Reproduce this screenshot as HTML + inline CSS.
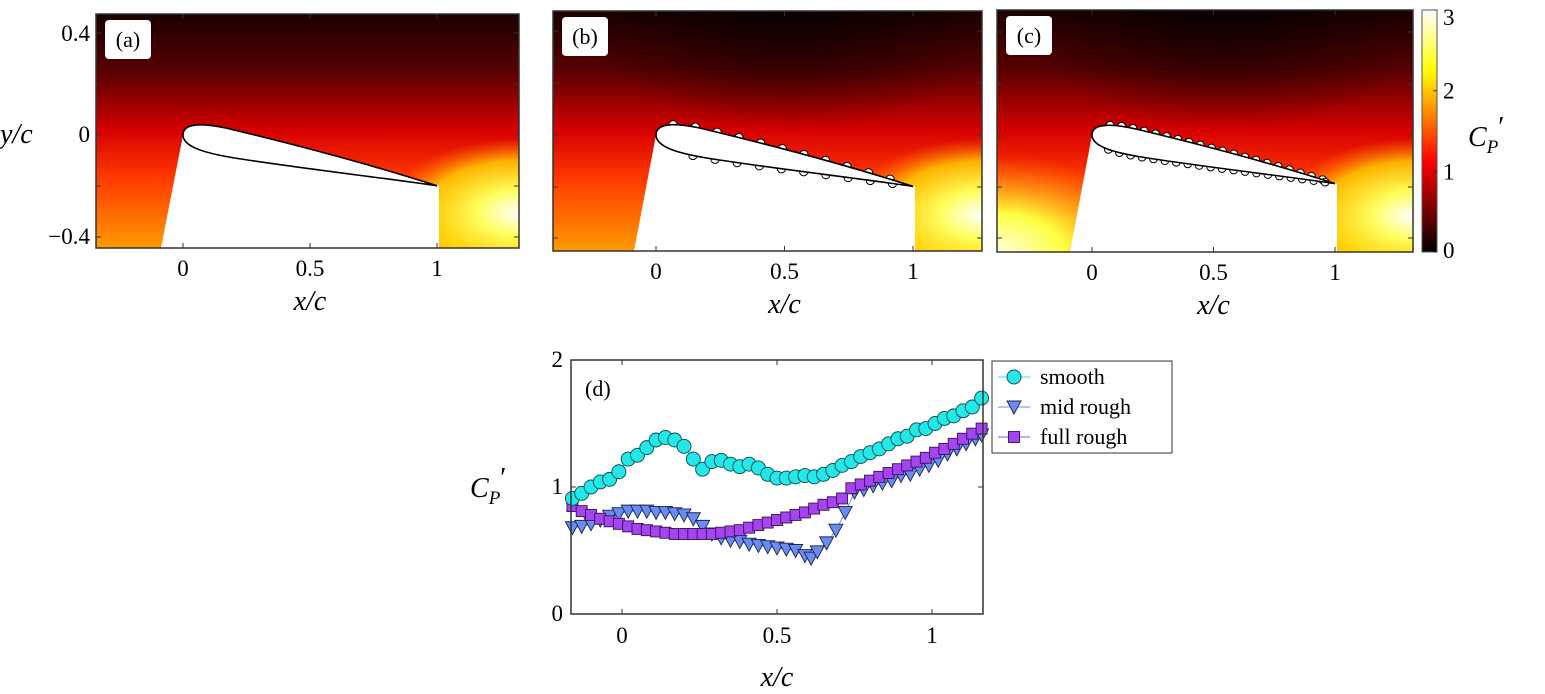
<!DOCTYPE html>
<html><head><meta charset="utf-8"><style>
html,body{margin:0;padding:0;background:#fff;}
svg{display:block;font-family:"Liberation Serif",serif;}
</style></head><body>
<svg id="fig" width="1545" height="694" viewBox="0 0 1545 694">
<defs>
 <linearGradient id="base" x1="0" y1="0" x2="0" y2="1">
  <stop offset="0" stop-color="#1a0000"/><stop offset="0.25" stop-color="#5a0000"/>
  <stop offset="0.5" stop-color="#d80000"/><stop offset="0.7" stop-color="#ff3a00"/>
  <stop offset="1" stop-color="#ff9a00"/>
 </linearGradient>
 <radialGradient id="yel" cx="1" cy="0.85" r="0.32">
  <stop offset="0" stop-color="#ffffff" stop-opacity="1"/><stop offset="0.3" stop-color="#ffff60" stop-opacity="1"/>
  <stop offset="0.7" stop-color="#ffe000" stop-opacity="0.75"/><stop offset="1" stop-color="#ff8000" stop-opacity="0"/>
 </radialGradient>
 <radialGradient id="yelL" cx="0" cy="1" r="0.4">
  <stop offset="0" stop-color="#ffffe0"/><stop offset="0.4" stop-color="#ffff40"/>
  <stop offset="1" stop-color="#ff9000" stop-opacity="0"/>
 </radialGradient>
 <radialGradient id="darkc" cx="0.55" cy="0" r="0.5">
  <stop offset="0" stop-color="#000" stop-opacity="0.7"/><stop offset="1" stop-color="#000" stop-opacity="0"/>
 </radialGradient>
 <linearGradient id="hot" x1="0" y1="1" x2="0" y2="0">
  <stop offset="0" stop-color="#000"/><stop offset="0.375" stop-color="#ff0000"/>
  <stop offset="0.75" stop-color="#ffff00"/><stop offset="1" stop-color="#fff"/>
 </linearGradient>
 <path id="foil" d="M0,0 C0,-0.055 0.1,-0.045 0.2,-0.02 C0.45,0.04 0.75,0.12 1,0.2 C0.8,0.17 0.45,0.13 0.2,0.09 C0.08,0.07 0,0.045 0,0 Z"/>
</defs>
<g id="panels"></g>
<g id="pd"></g>
</svg>
<script>
// ---------- panel (d) data ----------
const smoothX=[-0.16,-0.13,-0.10,-0.07,-0.04,-0.01,0.02,0.05,0.08,0.11,0.14,0.17,0.20,0.23,0.26,0.29,0.32,0.35,0.38,0.41,0.44,0.47,0.50,0.53,0.56,0.59,0.62,0.65,0.68,0.71,0.74,0.77,0.80,0.83,0.86,0.89,0.92,0.95,0.98,1.01,1.04,1.07,1.10,1.13,1.16];
const smoothY=[0.91,0.95,1.00,1.04,1.06,1.12,1.22,1.25,1.31,1.37,1.39,1.37,1.32,1.22,1.14,1.20,1.21,1.18,1.16,1.18,1.15,1.10,1.07,1.07,1.08,1.09,1.08,1.10,1.13,1.17,1.20,1.24,1.27,1.30,1.34,1.38,1.40,1.45,1.46,1.50,1.54,1.56,1.60,1.63,1.70];
const fullX=smoothX.slice();
const fullY=[0.85,0.81,0.78,0.75,0.73,0.71,0.69,0.67,0.66,0.65,0.64,0.63,0.63,0.63,0.63,0.63,0.64,0.65,0.66,0.68,0.70,0.72,0.74,0.76,0.78,0.80,0.83,0.86,0.88,0.91,0.99,1.02,1.05,1.08,1.11,1.14,1.17,1.20,1.23,1.27,1.30,1.34,1.38,1.42,1.46];
const midX=[-0.16,-0.13,-0.10,-0.07,-0.04,-0.01,0.02,0.05,0.08,0.11,0.14,0.17,0.20,0.23,0.26,0.29,0.32,0.35,0.38,0.41,0.44,0.47,0.50,0.53,0.56,0.59,0.61,0.63,0.66,0.69,0.72,0.75,0.78,0.81,0.84,0.87,0.90,0.93,0.96,0.99,1.02,1.05,1.08,1.11,1.14,1.16];
const midY=[0.68,0.69,0.71,0.74,0.77,0.79,0.81,0.81,0.81,0.80,0.80,0.79,0.78,0.75,0.69,0.63,0.60,0.58,0.57,0.55,0.54,0.53,0.52,0.51,0.50,0.46,0.44,0.49,0.56,0.66,0.80,0.96,0.98,1.01,1.03,1.05,1.09,1.10,1.14,1.17,1.21,1.26,1.30,1.34,1.38,1.41];
const xTicksD=[0,0.5,1];
const yTicksD=[0,1,2];
const legendNames=["smooth","mid rough","full rough"];
const cbTicks=[0,1,2,3];

const NS="http://www.w3.org/2000/svg";
function mk(tag,attrs,parent){const e=document.createElementNS(NS,tag);for(const k in attrs)e.setAttribute(k,attrs[k]);if(parent)parent.appendChild(e);return e;}

// ---------- heatmap panels ----------
const panelsG=document.getElementById('panels');
const P=[
 {id:'a',L:96,T:14,R:519,B:248,x0:183,x1:437,y0:135,yt:[33,84,135,186,237],bumps:0},
 {id:'b',L:553,T:11,R:982,B:251,x0:656,x1:913,y0:135,yt:[31,83,135,187,238],bumps:1},
 {id:'c',L:997,T:10,R:1413,B:252,x0:1092,x1:1335,y0:135,yt:[32,84,136,187,238],bumps:2}
];
P.forEach((p,i)=>{
 const g=mk('g',{},panelsG);
 
 
 const cp=mk('clipPath',{id:'clip'+p.id},g);
 mk('rect',{x:p.L,y:p.T,width:p.R-p.L,height:p.B-p.T},cp);
 const f=mk('g',{'clip-path':'url(#clip'+p.id+')'},g);
 const w=p.R-p.L,h=p.B-p.T;
 mk('rect',{x:p.L,y:p.T,width:w,height:h,fill:'url(#base)'},f);
 if(i>0) mk('rect',{x:p.L,y:p.T,width:w,height:h,fill:'url(#darkc)'},f);
 mk('rect',{x:p.L,y:p.T,width:w,height:h,fill:'url(#yel)'},f);
 if(i===2) mk('rect',{x:p.L,y:p.T,width:w,height:h,fill:'url(#yelL)'},f);
 const c=p.x1-p.x0;
 mk('polygon',{points:`${p.x0},${p.y0} ${p.x0-22},${p.B} ${p.x1+2},${p.B} ${p.x1+2},${p.y0+0.2*c} `,fill:'#fff'},f);
 const fg=mk('g',{transform:`translate(${p.x0},${p.y0}) scale(${c})`},f);
 if(p.bumps){
  const tmp=mk('path',{d:document.getElementById('foil').getAttribute('d')},fg);
  const Ltot=tmp.getTotalLength();
  const n=p.bumps===1?24:44;
  for(let k=1;k<n;k++){
   const pt=tmp.getPointAtLength(Ltot*k/n);
   if(pt.x<0.06||pt.x>0.96)continue;
   mk('circle',{cx:pt.x,cy:pt.y,r:0.016,fill:'#fff',stroke:'#000','stroke-width':1/c},fg);
  }
  tmp.remove();
 }
 const af=mk('use',{href:'#foil',fill:'#fff',stroke:'#000','stroke-width':1.6/c},fg);
 
 
 mk('rect',{x:p.L,y:p.T,width:w,height:h,fill:'none',stroke:'#333','stroke-width':1.5},g);
 [0,0.5,1].forEach(v=>{const x=p.x0+v*c;
  mk('line',{x1:x,x2:x,y1:p.B,y2:p.B-5,stroke:'#333'},g);mk('line',{x1:x,x2:x,y1:p.T,y2:p.T+5,stroke:'#333'},g);
  const t=mk('text',{x:x,y:p.B+28,'text-anchor':'middle','font-size':23},g);t.textContent=String(v);
  });
 p.yt.forEach(y=>{mk('line',{x1:p.L,x2:p.L+5,y1:y,y2:y,stroke:'#333'},g);mk('line',{x1:p.R,x2:p.R-5,y1:y,y2:y,stroke:'#333'},g);});
 const xl=mk('text',{x:p.x0+0.5*c,y:p.B+62,'text-anchor':'middle','font-size':28,'font-style':'italic'},g);xl.textContent='x/c';
 
 const lb=mk('g',{},g);
 mk('rect',{x:p.L+9,y:p.T+6,width:46,height:39,rx:4,fill:'#fff'},lb);
 const lt=mk('text',{x:p.L+32,y:p.T+33,'text-anchor':'middle','font-size':22},lb);lt.textContent='('+p.id+')';
});
[['0.4',41],['0',142],['\u22120.4',244]].forEach(([s,y])=>{const t=mk('text',{x:90,y:y,'text-anchor':'end','font-size':23},panelsG);t.textContent=s;
 });
{const t=mk('text',{x:0,y:143,'font-size':28,'font-style':'italic'},panelsG);t.textContent='y/c';}
{const cb=mk('g',{},panelsG);
 const cT=10,cB=252;
 mk('rect',{x:1422,y:cT,width:15,height:cB-cT,fill:'url(#hot)',stroke:'#555','stroke-width':1},cb);
 cbTicks.forEach(v=>{const y=cB-(v/3)*(cB-cT);
  mk('line',{x1:1433,x2:1437,y1:y,y2:y,stroke:'#333'},cb);
  const t=mk('text',{x:1443,y:Math.min(Math.max(y+8,cT+15),cB+6),'font-size':23},cb);t.textContent=String(v);
  });
 const t=mk('text',{x:1468,y:146,'font-size':28,'font-style':'italic'},cb);
 t.innerHTML='C<tspan font-size="19" dy="7">P</tspan><tspan dy="-17" font-style="normal">\u2032</tspan>';
 }

// ---------- panel (d) ----------
const pd=document.getElementById('pd');
const D={L:571,R:983,T:360,B:614};
const sx=v=>622+(v-0)*310;
const sy=v=>D.B-v*127;
const ax=mk('g',{},pd);
mk('rect',{x:D.L,y:D.T,width:D.R-D.L,height:D.B-D.T,fill:'#fff'},ax);
function drawMarker(g,type,x,y){
 if(type==='c') return mk('circle',{cx:x,cy:y,r:7,fill:'#22e8e8',stroke:'#0a4a50','stroke-width':0.9},g);
 if(type==='t') return mk('polygon',{points:`${x-7},${y-6} ${x+7},${y-6} ${x},${y+7}`,fill:'#6a8cf2',stroke:'#1a2550','stroke-width':0.9},g);
 return mk('rect',{x:x-5.5,y:y-5.5,width:11,height:11,fill:'#a545f2',stroke:'#3a1050','stroke-width':0.9},g);
}
const series=[[midX,midY,'t','#6a8cf2','mid-rough'],[fullX,fullY,'s','#a545f2','full-rough'],[smoothX,smoothY,'c','#22e8e8','smooth']];
const cpd=mk('clipPath',{id:'clipd'},pd);mk('rect',{x:D.L-8,y:D.T-8,width:D.R-D.L+16,height:D.B-D.T+16},cpd);
series.forEach(([xs,ys,type,col,name])=>{
 const g=mk('g',{'clip-path':'url(#clipd)'},ax);
 
 
 mk('polyline',{points:xs.map((x,i)=>sx(x)+','+sy(ys[i])).join(' '),fill:'none',stroke:col,'stroke-width':1},g);
 xs.forEach((x,i)=>{const m=drawMarker(g,type,sx(x),sy(ys[i]));
  
  });
});
mk('rect',{x:D.L,y:D.T,width:D.R-D.L,height:D.B-D.T,fill:'none',stroke:'#333','stroke-width':1.5},ax);
xTicksD.forEach(v=>{const x=sx(v);mk('line',{x1:x,x2:x,y1:D.B,y2:D.B-5,stroke:'#333'},ax);mk('line',{x1:x,x2:x,y1:D.T,y2:D.T+5,stroke:'#333'},ax);
 const t=mk('text',{x:x,y:D.B+29,'text-anchor':'middle','font-size':23},ax);t.textContent=String(v);
 });
yTicksD.forEach(v=>{const y=sy(v);mk('line',{x1:D.L,x2:D.L+5,y1:y,y2:y,stroke:'#333'},ax);mk('line',{x1:D.R,x2:D.R-5,y1:y,y2:y,stroke:'#333'},ax);
 const t=mk('text',{x:D.L-8,y:y+7,'text-anchor':'end','font-size':23},ax);t.textContent=String(v);
 });
{const t=mk('text',{x:777,y:686,'text-anchor':'middle','font-size':28,'font-style':'italic'},ax);t.textContent='x/c';
 }
{const t=mk('text',{x:470,y:497,'font-size':28,'font-style':'italic'},ax);
 t.innerHTML='C<tspan font-size="19" dy="7">P</tspan><tspan dy="-17" font-style="normal">\u2032</tspan>';
 }
{const t=mk('text',{x:585,y:396,'font-size':22},ax);t.textContent='(d)';}
const lg=mk('g',{},pd);
mk('rect',{x:992,y:361,width:180,height:92,fill:'#fff',stroke:'#333','stroke-width':1},lg);
const legCols=['#22e8e8','#6a8cf2','#a545f2'],legT=['c','t','s'];
legendNames.forEach((nm,i)=>{const y=377+i*30;
 const e=mk('g',{},lg);
 mk('line',{x1:998,x2:1030,y1:y,y2:y,stroke:legCols[i],'stroke-width':1},e);
 drawMarker(e,legT[i],1014,y);
 const t=mk('text',{x:1040,y:y+7,'font-size':22},e);t.textContent=nm;});
</script>
</body></html>
